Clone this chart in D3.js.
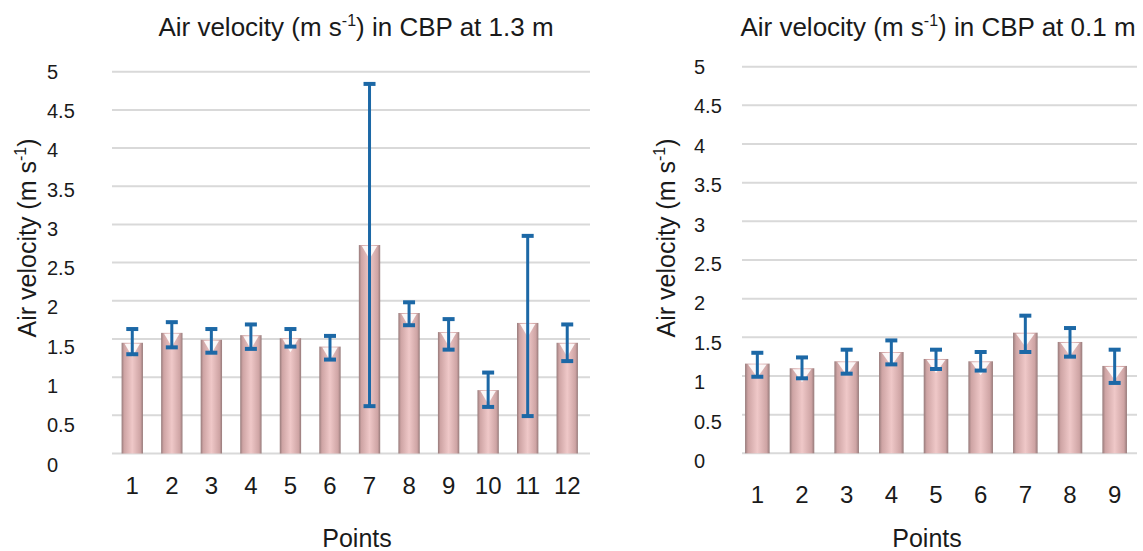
<!DOCTYPE html>
<html>
<head>
<meta charset="utf-8">
<script src="https://cdn.jsdelivr.net/npm/d3@7"></script>
<style>
  body { margin: 0; background: #fff; }
  text { font-family: "Liberation Sans", Arial, sans-serif; fill: #1a1a1a; }
  .grid { stroke: #d9d9d9; stroke-width: 2; }
  .err { stroke: #1c68a6; fill: none; }
</style>
</head>
<body>
<div id="chart"></div>
<script>
// chart values
const pointsHigh = ["1","2","3","4","5","6","7","8","9","10","11","12"];
const meanHigh  = [1.45, 1.58, 1.49, 1.55, 1.51, 1.40, 2.73, 1.84, 1.59, 0.83, 1.71, 1.45];
const upperHigh = [1.63, 1.72, 1.63, 1.69, 1.63, 1.54, 4.84, 1.98, 1.76, 1.06, 2.85, 1.69];
const lowerHigh = [1.30, 1.39, 1.32, 1.37, 1.40, 1.23, 0.62, 1.68, 1.36, 0.61, 0.49, 1.21];

const pointsLow = ["1","2","3","4","5","6","7","8","9"];
const meanLow  = [1.16, 1.10, 1.19, 1.31, 1.22, 1.19, 1.56, 1.44, 1.13];
const upperLow = [1.30, 1.24, 1.34, 1.46, 1.34, 1.31, 1.78, 1.62, 1.34];
const lowerLow = [0.99, 0.97, 1.03, 1.15, 1.09, 1.07, 1.31, 1.25, 0.91];

const yTicks = [0, 0.5, 1, 1.5, 2, 2.5, 3, 3.5, 4, 4.5, 5];

const W = 1143, H = 551;

const svg = d3.select("#chart").append("svg")
    .attr("width", W).attr("height", H);

const defs = svg.append("defs");
const grad = defs.append("linearGradient").attr("id", "barFill")
    .attr("x1", "0%").attr("x2", "100%").attr("y1", "0%").attr("y2", "0%");
[[0, "#967a7a"], [0.12, "#cea4a4"], [0.5, "#efc8c8"], [0.88, "#cea4a4"], [1, "#967a7a"]]
    .forEach(s => grad.append("stop").attr("offset", s[0]).attr("stop-color", s[1]));

function drawPanel(cfg){
    const g = svg.append("g");
    const rows = cfg.points.map((p, i) => ({p: p, m: cfg.mean[i], hi: cfg.upper[i], lo: cfg.lower[i]}));

    const x = d3.scaleBand().domain(cfg.points).range(cfg.xRange).paddingInner(cfg.pad).paddingOuter(cfg.pad / 2);
    const y = d3.scaleLinear().domain([0, 5]).range(cfg.yRange);

    // gridlines
    g.selectAll("line.grid").data(yTicks).enter().append("line")
        .attr("class", "grid")
        .attr("x1", cfg.gridX[0]).attr("x2", cfg.gridX[1])
        .attr("y1", d => y(d)).attr("y2", d => y(d));

    // y tick labels (spaced a touch wider than the gridlines, as in the original)
    g.selectAll("text.ytick").data(yTicks).enter().append("text")
        .attr("class", "ytick")
        .attr("x", cfg.yLabelX)
        .attr("y", (d, i) => y(d) + cfg.labelShift * (1 - i / 10))
        .attr("dy", "0.35em")
        .style("font-size", "20px")
        .text(d => d);

    // bars
    g.selectAll("rect.bar").data(rows).enter().append("rect")
        .attr("class", "bar")
        .attr("x", d => x(d.p))
        .attr("width", x.bandwidth())
        .attr("y", d => y(d.m))
        .attr("height", d => y(0) - y(d.m))
        .attr("fill", "url(#barFill)");

    // small white notch on the bar tops
    g.selectAll("path.notch").data(rows).enter().append("path")
        .attr("class", "notch")
        .attr("d", d => {
            const x0 = x(d.p), bw = x.bandwidth(), t = y(d.m);
            return `M${x0 + 3},${t + 1}L${x0 + bw - 3},${t + 1}L${x0 + bw / 2},${t + 14}Z`;
        })
        .attr("fill", "#fff").attr("opacity", 0.9);

    // error bars
    const eg = g.append("g").attr("class", "err");
    rows.forEach(d => {
        const cx = x(d.p) + x.bandwidth() / 2;
        eg.append("line").attr("x1", cx).attr("x2", cx)
            .attr("y1", y(d.hi)).attr("y2", y(d.lo)).attr("stroke-width", 3);
        [d.hi, d.lo].forEach(v => {
            eg.append("line").attr("x1", cx - 6).attr("x2", cx + 6)
                .attr("y1", y(v)).attr("y2", y(v)).attr("stroke-width", 4);
        });
    });

    // x tick labels
    g.selectAll("text.xtick").data(cfg.points).enter().append("text")
        .attr("class", "xtick")
        .attr("x", d => x(d) + x.bandwidth() / 2)
        .attr("y", cfg.xLabelY)
        .attr("text-anchor", "middle")
        .style("font-size", "24px")
        .text(d => d);

    // title
    const t = g.append("text")
        .attr("x", cfg.titleX).attr("y", 36)
        .attr("text-anchor", "middle")
        .style("font-size", "26px");
    t.append("tspan").text("Air velocity (m s");
    t.append("tspan").attr("dy", -10).style("font-size", "16px").text("-1");
    t.append("tspan").attr("dy", 10).text(") in CBP at " + cfg.height);

    // y axis title
    const yt = g.append("text")
        .attr("transform", `translate(${cfg.yTitleX},238) rotate(-90)`)
        .attr("text-anchor", "middle")
        .attr("dy", "0.35em")
        .style("font-size", "25px");
    yt.append("tspan").text("Air velocity (m s");
    yt.append("tspan").attr("dy", -10).style("font-size", "16px").text("-1");
    yt.append("tspan").attr("dy", 10).text(")");

    // x axis title
    g.append("text")
        .attr("x", cfg.xTitleX).attr("y", 547)
        .attr("text-anchor", "middle")
        .style("font-size", "25px")
        .text("Points");
}

drawPanel({
    points: pointsHigh, mean: meanHigh, upper: upperHigh, lower: lowerHigh,
    xRange: [112.5, 587], pad: 0.46, yRange: [453.5, 71.7],
    gridX: [112, 590], yLabelX: 47, xLabelY: 494, labelShift: 11,
    titleX: 356, yTitleX: 27, xTitleX: 357, height: "1.3 m"
});

drawPanel({
    points: pointsLow, mean: meanLow, upper: upperLow, lower: lowerLow,
    xRange: [735, 1137], pad: 0.45, yRange: [453.3, 66.7],
    gridX: [742, 1137], yLabelX: 694, xLabelY: 503, labelShift: 8,
    titleX: 938, yTitleX: 666, xTitleX: 927, height: "0.1 m"
});
</script>
</body>
</html>
